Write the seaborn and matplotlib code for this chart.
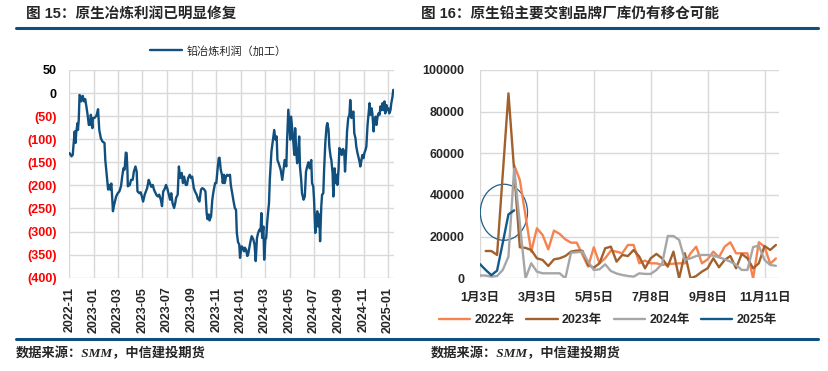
import numpy as np
import pandas as pd
import matplotlib
matplotlib.use("Agg")
import matplotlib.pyplot as plt
import matplotlib.dates as mdates
from matplotlib.patches import Ellipse
from matplotlib.lines import Line2D
import seaborn as sns

nan = np.nan

# 图15：铅冶炼利润（加工），横轴为 2022-11-01 之后的天数
start_day = "2022-11-01"
profit_day = [
    0, 5, 8, 10, 13, 15, 17, 20, 21, 23, 25, 28, 29, 33, 36, 39, 42, 45, 48, 51,
    53, 57, 58, 62, 67, 71, 74, 78, 82, 87, 89, 93, 96, 99, 101, 104, 106, 108, 111, 116,
    120, 124, 128, 131, 134, 137, 140, 142, 144, 145, 150, 153, 157, 160, 164, 167, 169, 174, 177, 180,
    183, 187, 190, 193, 197, 200, 203, 207, 210, 213, 217, 220, 223, 227, 230, 233, 236, 240, 243, 246,
    250, 253, 256, 260, 263, 265,
    269, 272, 275, 279, 282, 285, 289, 292, 295, 299, 302, 305, 309, 312, 316, 320, 323, 327, 330, 334,
    338, 341, 343, 346, 348, 352, 355, 358, 362, 365, 368, 371, 373, 376, 379, 381, 384, 386, 389, 392,
    395, 399, 401, 405, 408, 411, 414, 416, 419, 422, 424, 428, 431, 434, 436, 439, 442, 444, 447, 450,
    453, 457, 460, 463, 466, 469, 472, 475, 477, 479, 482, 484, 487, 489, 492, 496, 498, 502, 506, 509,
    512, 515, 517, 520, 525, 529, 532, 535, 539, 541, 544,
    549, 551, 554, 556, 559, 561, 564, 566, 568, 571, 573, 576, 578, 582, 585, 588, 591, 594, 597, 601,
    603, 606, 608, 611, 613, 616, 618, 621, 623, 626, 628, 631, 633, 636, 639, 641, 644, 646, 649, 651,
    654, 656, 659, 661, 664, 666, 669, 671, 674, 677, 680, 683, 685, 688, 690, 693, 696, 698, 701, 703,
    706, 708, 711, 713, 716, 718, 721, 723, 726, 728, 731, 733, 736, 738, 741, 743, 746, 748, 751, 753,
    756, 758, 761, 763, 766, 768, 771, 773, 775, 778, 780, 783, 785, 788, 790, 793, 795, 798, 800, 803,
    805,
]
profit_value = [
    -130, -137, -134, -112, -83, -108, -83, -65, -80, -58, -4, -8, -18, -6, -18, -13, -29, -47, -69, -69,
    -47, -76, -54, -54, -49, -35, -80, -98, -105, -108, -145, -181, -209, -199, -209, -196, -224, -256, -242, -224,
    -217, -213, -202, -181, -163, -166, -129, -130, -166, -202, -199, -188, -188, -170, -159, -170, -213, -217, -215, -224,
    -235, -220, -213, -206, -188, -195, -203, -199, -209, -215, -222, -224, -220, -231, -245, -213, -209, -199, -206, -217,
    -231, -217, -238, -249, -238, -227,
    -220, -159, -184, -173, -195, -181, -199, -199, -184, -177, -184, -181, -206, -213, -220, -231, -235, -209, -206, -208,
    -213, -260, -273, -263, -276, -267, -231, -213, -195, -195, -166, -141, -140, -166, -177, -195, -177, -195, -181, -177,
    -179, -177, -199, -220, -235, -249, -253, -303, -323, -328, -357, -332, -335, -343, -335, -339, -353, -350, -335, -321,
    -310, -317, -328, -364, -314, -303, -296, -299, -260, -314, -289, -361, -317, -314, -274, -238, -188, -127, -101, -80,
    -101, -94, -145, -152, -166, -188, -166, -145, -159, -101, -36,
    -101, -51, -80, -101, -134, -76, -130, -152, -141, -94, -159, -188, -217, -231, -224, -170, -159, -150, -163, -145,
    -195, -202, -231, -303, -282, -256, -289, -263, -321, -245, -220, -217, -166, -108, -73, -65, -80, -116, -137, -145,
    -173, -224, -163, -195, -177, -199, -163, -119, -123, -134, -121, -127, -170, -123, -83, -54, -47, -15, -54, -44,
    -40, -87, -98, -116, -130, -137, -148, -159, -145, -134, -141, -130, -123, -116, -69, -51, -22, -47, -33, -44,
    -83, -58, -51, -69, -51, -44, -47, -29, -37, -22, -37, -18, -44, -26, -37, -33, -44, -37, -22, -8,
    7,
]

# 图16：原生铅主要交割品牌厂库（吨），按周排列
week_ticks = [0, 10, 20, 30, 40, 50]
week_labels = ["1月3日", "3月3日", "5月5日", "7月8日", "9月8日", "11月11日"]
stock_2022 = [
    nan, nan, nan, nan, nan, nan, 54400, 47200, nan, 12800, 24000, 20800, 13900, 22900, 21300, 18700,
    17100, 17100, nan, 5600, 14900, 7200, 9600, 13300, 12800, 12000, 16000, 16000, 7200, 8500, 7200,
    7200, 6400, 6800, 7000, 7200, 7200, 12000, 15200, 7200, 9100, 12800, 10100, 15200, 17300, 12000,
    12000, 12000, 0, 17300, 15200, 7000, 9500,
]
stock_2023 = [
    nan, 13100, 13100, 11200, nan, 88800, nan, 14900, 14600, 13600, 9600, 8800, 5900, 9100, 9600, 10700,
    12800, 13300, 13200, 6400, 5100, 7200, 14400, 15200, 8000, 11200, 10700, 13600, 10400, 4800, 9600,
    11700, 9600, 5600, 12800, 0, 12000, 0, 1100, 3200, 4800, 9600, 5300, 8800, 10700, 4800, 11700,
    9600, 4800, 7200, 15500, 13600, 16000,
]
stock_2024 = [
    1400, 1300, 800, 1100, 4000, 10400, 52600, nan, 0, 7200, 3200, 2400, 2400, 2400, 2400, 0, 12300,
    12500, 12800, 8000, 4000, 4300, 6700, 3500, 2300, 1600, 1100, 800, 2400, 2100, 2100, 4000, 7000,
    20300, 20300, 18400, 8800, 9600, 10700, 11200, 11200, 10900, 10100, 9100, 8000, 6400, 4000, 4000,
    15000, 15700, 8800, 6400, 6000,
]
stock_2025 = [6800, 4000, 1500, 3700, 17000, 30700, 32600] + [nan] * 46

years = ["2022年", "2023年", "2024年", "2025年"]
palette = {"2022年": "#F6834F", "2023年": "#A0612E", "2024年": "#A6A6A6", "2025年": "#115A8C"}

rule_color = "#0E4F7E"
line_color = "#11507E"
grid_color = "#D9D9D9"

sns.set_style("white")
plt.rcParams["font.family"] = ["Liberation Sans", "Noto Sans CJK SC"]
plt.rcParams["axes.unicode_minus"] = False

fig = plt.figure(figsize=(8.29, 3.71), dpi=100)
W, H = 829, 371

# 标题、分隔线、数据来源
fig.text(26 / W, 1 - 14 / H, "图 15：原生冶炼利润已明显修复", fontsize=10.5,
         fontweight="bold", va="center", ha="left")
fig.text(421 / W, 1 - 14 / H, "图 16：原生铅主要交割品牌厂库仍有移仓可能", fontsize=10.5,
         fontweight="bold", va="center", ha="left")
for yy in (28.3, 339):
    fig.add_artist(Line2D([16 / W, 818 / W], [1 - yy / H] * 2, transform=fig.transFigure,
                          color=rule_color, lw=2.2))
src_font = ["Liberation Serif", "Noto Sans CJK SC"]
fig.text(16 / W, 1 - 353 / H, "数据来源：SMM，中信建投期货", fontsize=9.5, fontweight="bold",
         style="italic", family=src_font, va="center", ha="left")
fig.text(431 / W, 1 - 353 / H, "数据来源：SMM，中信建投期货", fontsize=9.5, fontweight="bold",
         style="italic", family=src_font, va="center", ha="left")

# ---- 左图
ax1 = fig.add_axes([69.5 / W, 1 - 277.7 / H, 325 / W, 207.7 / H])
df1 = pd.DataFrame({
    "date": pd.Timestamp(start_day) + pd.to_timedelta(profit_day, unit="D"),
    "profit": profit_value,
})
sns.lineplot(data=df1, x="date", y="profit", ax=ax1, color=line_color, lw=1.7,
             label="铅冶炼利润（加工）")
ax1.set_xlim(pd.Timestamp(start_day), pd.Timestamp(start_day) + pd.Timedelta(days=808))
ax1.set_ylim(-400, 50)
yt = list(range(-400, 51, 50))
ax1.set_yticks(yt)
ax1.set_yticklabels([f"({-v})" if v < 0 else str(v) for v in yt])
for lab, v in zip(ax1.get_yticklabels(), yt):
    lab.set_color("#FF0000" if v < 0 else "black")
    lab.set_fontweight("bold")
ax1.xaxis.set_major_locator(mdates.MonthLocator(bymonth=[1, 3, 5, 7, 9, 11]))
ax1.xaxis.set_major_formatter(mdates.DateFormatter("%Y-%m"))
plt.setp(ax1.get_xticklabels(), rotation=90, ha="center", va="top", fontweight="bold")
ax1.tick_params(axis="y", length=0, pad=9, labelsize=9)
ax1.tick_params(axis="x", length=0, pad=6.5, labelsize=9)
ax1.grid(True, color=grid_color, lw=1)
for s in ax1.spines.values():
    s.set_visible(False)
ax1.set_xlabel("")
ax1.set_ylabel("")
ax1.legend(loc="center", bbox_to_anchor=(0.458, 1.0915), frameon=False, fontsize=8,
           handlelength=2.9, handletextpad=0.4)

# ---- 右图
ax2 = fig.add_axes([480 / W, 1 - 278.3 / H, 299.3 / W, 208.3 / H])
series = [stock_2022, stock_2023, stock_2024, stock_2025]
df2 = pd.concat([
    pd.DataFrame({"week": np.arange(len(s)), "stock": s, "year": y})
    for y, s in zip(years, series)
]).dropna()
sns.lineplot(data=df2, x="week", y="stock", hue="year", hue_order=years, palette=palette,
             ax=ax2, lw=1.7, errorbar=None, legend=False)
ax2.add_patch(Ellipse((4.2, 31700), 8.3, 26900, fill=False, ec="#1F5F8B", lw=0.9))
ax2.set_xlim(0, 52.6)
ax2.set_ylim(0, 100000)
ax2.set_xticks(week_ticks)
ax2.set_xticklabels(week_labels, fontweight="bold")
ax2.set_yticks(range(0, 100001, 20000))
ax2.set_yticklabels([str(v) for v in range(0, 100001, 20000)], fontweight="bold")
ax2.tick_params(axis="y", length=0, pad=11, labelsize=9)
ax2.tick_params(axis="x", length=0, pad=10, labelsize=9)
ax2.grid(True, color=grid_color, lw=1)
for s in ax2.spines.values():
    s.set_visible(False)
ax2.set_xlabel("")
ax2.set_ylabel("")
handles = [Line2D([], [], color=palette[y], lw=1.7) for y in years]
leg = ax2.legend(handles, years, loc="center", bbox_to_anchor=(0.4277, -0.2), ncol=4,
                 frameon=False, fontsize=9, handlelength=2.5, handletextpad=0.36,
                 columnspacing=0.9)
for t in leg.get_texts():
    t.set_fontweight("bold")

fig.savefig("out.png", dpi=100)
